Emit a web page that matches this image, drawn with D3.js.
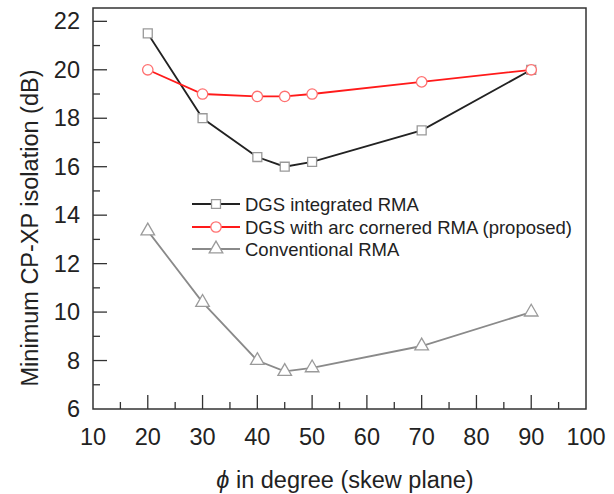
<!DOCTYPE html>
<html>
<head>
<meta charset="utf-8">
<script src="https://cdn.jsdelivr.net/npm/d3@7"></script>
<style>
  body { margin: 0; background: #fff; }
  svg text { font-family: "Liberation Sans", Arial, sans-serif; fill: #222; }
</style>
</head>
<body>
<div id="chart"></div>
<script>
// values
var phi = [20, 30, 40, 45, 50, 70, 90];
var dgsIntegrated = [21.5, 18.0, 16.4, 16.0, 16.2, 17.5, 20.0];
var dgsArc = [20.0, 19.0, 18.9, 18.9, 19.0, 19.5, 20.0];
var conventional = [13.35, 10.4, 8.0, 7.55, 7.7, 8.6, 10.0];
var xTicks = [10, 20, 30, 40, 50, 60, 70, 80, 90, 100];
var yTicks = [6, 8, 10, 12, 14, 16, 18, 20, 22];
var seriesNames = ['DGS integrated RMA', 'DGS with arc cornered RMA (proposed)', 'Conventional RMA'];

var W = 614, H = 494;
var m = {left: 93, top: 8, right: 586, bottom: 409};

var svg = d3.select('#chart').append('svg').attr('width', W).attr('height', H);

var x = d3.scaleLinear().domain([10, 100]).range([m.left, m.right]);
var y = d3.scaleLinear().domain([6, 22.55]).range([m.bottom, m.top]);

// minor ticks
var xMinor = d3.range(15, 100, 10);
var yMinor = d3.range(7, 23, 2);

var g = svg.append('g');
g.selectAll('.xmaj').data(xTicks.slice(1, -1)).enter().append('line')
    .attr('x1', d => x(d)).attr('x2', d => x(d))
    .attr('y1', m.bottom).attr('y2', m.bottom - 14)
    .attr('stroke', '#333').attr('stroke-width', 1.3);
g.selectAll('.xmin').data(xMinor).enter().append('line')
    .attr('x1', d => x(d)).attr('x2', d => x(d))
    .attr('y1', m.bottom).attr('y2', m.bottom - 7)
    .attr('stroke', '#333').attr('stroke-width', 1.3);
g.selectAll('.ymaj').data(yTicks.slice(1)).enter().append('line')
    .attr('x1', m.left).attr('x2', m.left + 14)
    .attr('y1', d => y(d)).attr('y2', d => y(d))
    .attr('stroke', '#333').attr('stroke-width', 1.3);
g.selectAll('.ymin').data(yMinor).enter().append('line')
    .attr('x1', m.left).attr('x2', m.left + 7)
    .attr('y1', d => y(d)).attr('y2', d => y(d))
    .attr('stroke', '#333').attr('stroke-width', 1.3);

// tick labels
g.selectAll('.xl').data(xTicks).enter().append('text')
    .attr('x', d => x(d)).attr('y', 445)
    .attr('text-anchor', 'middle').attr('font-size', 23.5).text(d => d);
g.selectAll('.yl').data(yTicks).enter().append('text')
    .attr('x', 80).attr('y', d => y(d) + 8)
    .attr('text-anchor', 'end').attr('font-size', 23.5).text(d => d);

// frame
svg.append('rect').attr('x', m.left).attr('y', m.top)
    .attr('width', m.right - m.left).attr('height', m.bottom - m.top)
    .attr('fill', 'none').attr('stroke', '#333').attr('stroke-width', 1.5);

// axis titles
var xt = svg.append('text').attr('x', 345).attr('y', 488)
    .attr('text-anchor', 'middle').attr('font-size', 23.5);
xt.append('tspan').attr('font-style', 'italic').text('\u03D5');
xt.append('tspan').text(' in degree (skew plane)');

svg.append('text')
    .attr('transform', 'translate(38,228) rotate(-90)')
    .attr('text-anchor', 'middle').attr('font-size', 23.5)
    .text('Minimum CP-XP isolation (dB)');

var line = d3.line().x((d, i) => x(phi[i])).y(d => y(d));

var series = [
  {vals: dgsIntegrated, color: '#222', mcolor: '#999', shape: d3.symbolSquare},
  {vals: dgsArc, color: '#ff1a1a', mcolor: '#ff7070', shape: d3.symbolCircle},
  {vals: conventional, color: '#8a8a8a', mcolor: '#9a9a9a', shape: d3.symbolTriangle}
];

function marker(sel, s) {
  var size = s.shape === d3.symbolSquare ? 80 : (s.shape === d3.symbolCircle ? 85 : 80);
  sel.attr('d', d3.symbol().type(s.shape).size(size)())
     .attr('fill', '#fff').attr('stroke', s.mcolor).attr('stroke-width', 1.3);
}

series.forEach(function (s) {
  svg.append('path').datum(s.vals).attr('d', line)
      .attr('fill', 'none').attr('stroke', s.color).attr('stroke-width', 1.8);
});
series.forEach(function (s) {
  svg.selectAll(null).data(s.vals).enter().append('path')
      .attr('transform', (d, i) => 'translate(' + x(phi[i]) + ',' + y(d) + ')')
      .call(marker, s);
});

// legend
var ly = [204, 227, 249];
series.forEach(function (s, i) {
  svg.append('line').attr('x1', 192).attr('x2', 240)
      .attr('y1', ly[i]).attr('y2', ly[i])
      .attr('stroke', s.color).attr('stroke-width', 1.8);
  svg.append('path').attr('transform', 'translate(216,' + ly[i] + ')').call(marker, s);
  svg.append('text').attr('x', 245).attr('y', ly[i] + 6.5)
      .attr('font-size', 18.5).text(seriesNames[i]);
});
</script>
</body>
</html>
